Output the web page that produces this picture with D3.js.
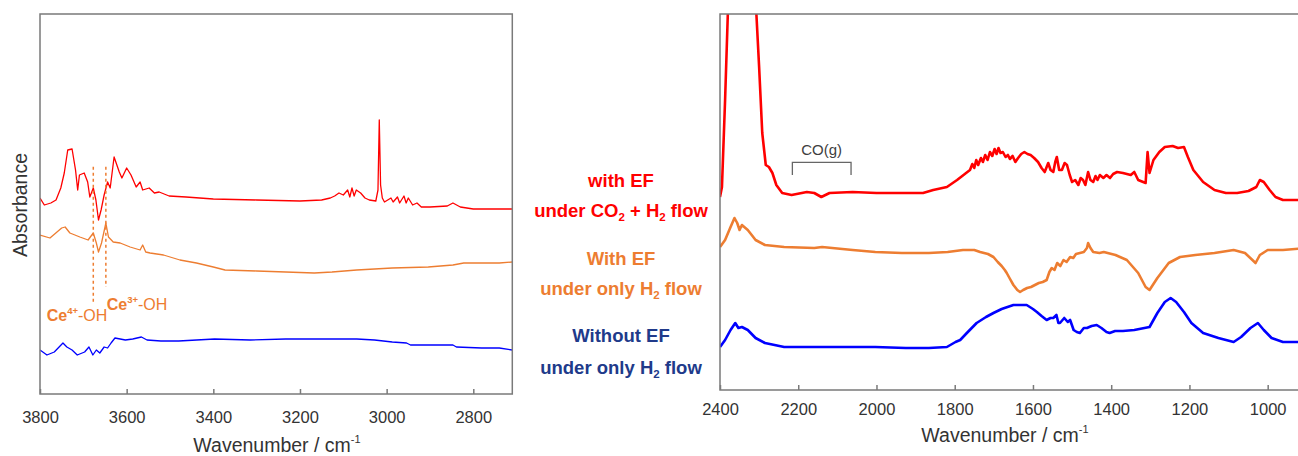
<!DOCTYPE html>
<html>
<head>
<meta charset="utf-8">
<script src="https://cdn.jsdelivr.net/npm/d3@7"></script>
<style>
  html, body { margin: 0; padding: 0; background: #fff; }
  svg { display: block; font-family: "Liberation Sans", Arial, sans-serif; }
</style>
</head>
<body>
<svg id="chart" width="1298" height="456"></svg>
<script>
// ---------------- DATA ----------------
// Left panel (OH / C-H region): [wavenumber, absorbance (a.u., offset)]
const leftTicks = [3800, 3600, 3400, 3200, 3000, 2800];
const leftRed = [[3800,19.6],[3790,18.9],[3775,19.1],[3763,19.4],[3752,20.6],[3744,22.1],[3736,24.4],[3726,24.5],[3718,22.4],[3713,20.4],[3709,21.9],[3698,22.1],[3690,21.2],[3685,19.7],[3677,20.6],[3671,19.4],[3665,17.4],[3659,18.4],[3652,19.9],[3644,21.2],[3638,20.6],[3629,23.7],[3617,22.2],[3611,21.6],[3600,22.6],[3590,21.9],[3578,20.7],[3569,21.2],[3563,20.4],[3548,20.6],[3536,20.1],[3525,20.2],[3502,19.8],[3463,19.7],[3400,19.5],[3300,19.4],[3200,19.3],[3150,19.4],[3130,19.6],[3120,19.8],[3110,20.1],[3100,19.9],[3090,20.4],[3085,19.7],[3080,20.6],[3075,19.8],[3070,20.4],[3060,20.1],[3050,19.6],[3040,19.4],[3025,19.3],[3020,20.4],[3017,27.4],[3014,20.9],[3010,19.6],[3005,19.2],[2990,19.6],[2985,19.2],[2975,19.7],[2970,19.1],[2960,19.8],[2955,19.1],[2950,19.6],[2940,18.9],[2930,19.1],[2920,18.7],[2900,18.7],[2860,18.8],[2847,19.1],[2830,18.7],[2800,18.5],[2750,18.5],[2710,18.5]];
const leftOrange = [[3800,15.9],[3777,15.6],[3750,16.6],[3742,16.7],[3731,16.1],[3708,15.7],[3689,15.4],[3677,16.1],[3670,15.1],[3665,14.2],[3658,15.1],[3648,17.1],[3642,15.7],[3631,15.2],[3615,15.1],[3592,14.7],[3569,14.4],[3563,14.9],[3556,14.2],[3546,14.1],[3515,13.9],[3477,13.4],[3439,13.1],[3400,12.7],[3373,12.4],[3300,12.3],[3233,12.2],[3167,12.1],[3126,12.2],[3069,12.4],[2987,12.6],[2904,12.7],[2847,12.9],[2822,13.1],[2740,13.1],[2710,13.2]];
const leftBlue = [[3800,4.4],[3784,3.9],[3767,4.2],[3747,5.1],[3738,4.7],[3726,4.4],[3714,3.9],[3697,4.2],[3687,4.7],[3678,3.9],[3670,4.4],[3662,4.1],[3652,4.7],[3644,4.6],[3636,5.1],[3627,5.6],[3603,5.4],[3586,5.5],[3566,5.7],[3553,5.4],[3521,5.3],[3480,5.3],[3397,5.5],[3315,5.4],[3233,5.5],[3151,5.5],[3069,5.5],[3028,5.4],[2987,5.2],[2954,5.1],[2945,4.9],[2847,4.9],[2839,4.7],[2781,4.6],[2740,4.6],[2710,4.4]];
const ceBands = [3677, 3648];

// Right panel (carbonate / formate region)
const rightTicks = [2400, 2200, 2000, 1800, 1600, 1400, 1200, 1000];
const rightRed = [[2400,19.3],[2395,20.3],[2387,29.0],[2380,37.6],[2376,42.0],[2312,42.0],[2307,37.6],[2300,32.3],[2292,25.7],[2283,22.5],[2275,22.3],[2266,21.7],[2256,20.5],[2241,19.7],[2217,19.5],[2178,19.8],[2159,19.7],[2141,19.3],[2120,19.7],[2061,19.8],[2000,19.7],[1944,19.7],[1881,19.7],[1855,20.0],[1820,20.3],[1794,21.0],[1761,22.0],[1755,22.6],[1750,22.2],[1745,23.0],[1740,22.5],[1733,23.2],[1728,22.8],[1722,23.5],[1716,23.0],[1710,23.8],[1704,23.4],[1698,24.1],[1693,23.6],[1688,24.2],[1683,23.7],[1677,23.8],[1670,23.3],[1664,23.5],[1659,23.1],[1652,23.4],[1645,22.8],[1638,23.2],[1630,23.6],[1622,23.8],[1614,23.6],[1606,23.5],[1597,23.2],[1587,22.8],[1578,22.2],[1570,21.8],[1561,22.7],[1555,22.0],[1548,21.8],[1543,22.8],[1539,23.3],[1533,22.0],[1526,22.0],[1519,22.7],[1513,22.5],[1506,21.5],[1500,20.8],[1492,21.0],[1484,20.5],[1478,21.2],[1472,21.0],[1466,20.5],[1459,21.8],[1453,21.0],[1446,20.8],[1440,21.4],[1435,21.0],[1429,21.5],[1420,21.2],[1412,21.5],[1403,21.2],[1395,21.6],[1385,21.8],[1370,21.7],[1350,21.5],[1341,21.8],[1331,21.0],[1312,20.7],[1307,23.8],[1302,21.7],[1292,23.0],[1277,23.8],[1263,24.3],[1243,24.4],[1229,24.2],[1214,24.3],[1204,23.3],[1190,22.0],[1165,20.8],[1136,20.0],[1107,19.7],[1078,19.7],[1049,19.9],[1029,20.3],[1020,21.0],[1010,20.8],[995,20.0],[980,19.3],[961,19.0],[900,19.0]];
const rightOrange = [[2400,14.3],[2387,15.0],[2373,16.3],[2363,17.2],[2356,16.7],[2350,16.0],[2344,16.5],[2329,16.0],[2309,15.0],[2285,14.5],[2236,14.3],[2159,14.2],[2139,14.3],[2061,14.0],[2003,13.8],[1935,13.7],[1866,13.7],[1818,13.8],[1779,14.0],[1750,14.0],[1735,13.8],[1715,13.6],[1701,13.3],[1690,12.8],[1680,12.4],[1672,12.0],[1667,11.7],[1660,11.2],[1650,10.5],[1640,10.0],[1633,9.8],[1625,10.0],[1615,10.2],[1605,10.3],[1595,10.5],[1585,10.7],[1575,10.8],[1565,11.0],[1558,11.8],[1552,12.2],[1545,12.0],[1538,12.7],[1530,12.4],[1522,13.0],[1514,12.8],[1505,13.3],[1497,13.2],[1490,13.6],[1480,13.7],[1470,13.8],[1462,14.2],[1459,14.7],[1453,14.2],[1446,13.8],[1430,13.7],[1419,13.8],[1389,13.5],[1360,13.0],[1331,11.7],[1312,10.3],[1302,10.0],[1282,11.2],[1253,12.7],[1224,13.3],[1185,13.5],[1136,13.7],[1087,14.0],[1058,13.7],[1039,13.0],[1031,12.7],[1020,13.5],[1000,14.0],[961,14.0],[900,14.2]];
const rightBlue = [[2400,4.3],[2387,5.0],[2373,6.0],[2361,6.7],[2353,6.2],[2344,6.3],[2329,6.0],[2309,5.2],[2285,4.7],[2236,4.3],[2061,4.3],[2003,4.3],[1925,4.2],[1866,4.2],[1820,4.3],[1798,4.8],[1786,5.0],[1769,5.7],[1744,6.7],[1720,7.3],[1701,7.7],[1680,8.1],[1650,8.5],[1633,8.5],[1616,8.5],[1600,8.1],[1590,7.8],[1578,7.4],[1565,7.0],[1555,7.2],[1548,7.2],[1540,7.5],[1535,6.7],[1531,6.7],[1520,7.2],[1511,6.8],[1505,7.0],[1496,6.0],[1488,5.8],[1480,5.7],[1470,6.2],[1462,6.2],[1450,6.4],[1437,6.5],[1425,6.2],[1412,5.8],[1404,5.7],[1390,5.9],[1370,5.9],[1341,6.0],[1302,6.3],[1282,7.7],[1263,8.8],[1248,9.2],[1234,8.8],[1214,7.8],[1195,6.7],[1165,5.7],[1126,5.2],[1087,4.8],[1068,5.3],[1044,6.2],[1025,6.7],[1010,6.0],[990,5.2],[961,4.8],[900,4.8]];
const coBracket = [2215, 2065];

// Legend text
const labelLines = [
  { parts: [["with EF", ""]], color: "#ff0000" },
  { parts: [["under CO", ""], ["2", "sub"], [" + H", ""], ["2", "sub"], [" flow", ""]], color: "#ff0000" },
  { parts: [["With EF", ""]], color: "#ed7d31" },
  { parts: [["under only H", ""], ["2", "sub"], [" flow", ""]], color: "#ed7d31" },
  { parts: [["Without EF", ""]], color: "#203a8a" },
  { parts: [["under only H", ""], ["2", "sub"], [" flow", ""]], color: "#203a8a" }
];
const labelBaselines = [186.5, 216.5, 264.5, 294.5, 341.5, 373.5];

// ---------------- DRAW ----------------
const svg = d3.select("#chart");
const axisColor = "#7a7a7a";
const textColor = "#333";
const RED = "#ff0000", ORANGE = "#ed7d31", BLUE = "#0000ff";

// ---- Left panel ----
const L = { x0: 40, x1: 512.3, y0: 14, y1: 394 };
const xL = d3.scaleLinear().domain([3800, 2710]).range([L.x0, L.x1]);
const yL = d3.scaleLinear().domain([0, 38]).range([L.y1, L.y0]);

svg.append("clipPath").attr("id", "clipL").append("rect")
  .attr("x", L.x0).attr("y", L.y0).attr("width", L.x1 - L.x0).attr("height", L.y1 - L.y0);

const lineL = d3.line().x(d => xL(d[0])).y(d => yL(d[1]));
const gL = svg.append("g").attr("clip-path", "url(#clipL)");
[[leftRed, RED], [leftOrange, ORANGE], [leftBlue, BLUE]].forEach(([data, c]) => {
  gL.append("path").datum(data).attr("d", lineL)
    .attr("fill", "none").attr("stroke", c).attr("stroke-width", 1.3).attr("stroke-linejoin", "round");
});

// Ce-OH dotted markers
const ceTop = 166.7, ceBottoms = [303, 287];
ceBands.forEach((w, i) => {
  svg.append("line").attr("x1", xL(w)).attr("x2", xL(w)).attr("y1", ceTop).attr("y2", ceBottoms[i])
    .attr("stroke", ORANGE).attr("stroke-width", 1.5).attr("stroke-dasharray", "3,3");
});
function ceLabel(x, y, sup) {
  const t = svg.append("text").attr("x", x).attr("y", y).attr("fill", ORANGE).attr("font-size", 16);
  t.append("tspan").attr("font-weight", "bold").text("Ce");
  t.append("tspan").attr("font-size", 9.5).attr("dy", -7).attr("font-weight", "bold").text(sup);
  t.append("tspan").attr("dy", 7).text("-OH");
}
ceLabel(46.7, 321, "4+");
ceLabel(106.7, 310, "3+");

// Left frame
svg.append("rect").attr("x", L.x0).attr("y", L.y0).attr("width", L.x1 - L.x0).attr("height", L.y1 - L.y0)
  .attr("fill", "none").attr("stroke", axisColor).attr("stroke-width", 1.5);
const axL = svg.append("g").attr("transform", `translate(0,${L.y1})`)
  .call(d3.axisBottom(xL).tickValues(leftTicks).tickSizeInner(-5).tickSizeOuter(0).tickPadding(0).tickFormat(d3.format("d")));
axL.select(".domain").remove();
axL.selectAll(".tick line").attr("stroke", axisColor).attr("stroke-width", 1.5);
axL.selectAll(".tick text").attr("fill", textColor).attr("font-size", 16.5)
  .attr("font-family", "Liberation Sans, Arial, sans-serif").attr("dy", null).attr("y", 28.5);

function axisTitle(x, y) {
  const t = svg.append("text").attr("x", x).attr("y", y).attr("text-anchor", "middle")
    .attr("fill", textColor).attr("font-size", 19.5);
  t.append("tspan").text("Wavenumber / cm");
  t.append("tspan").attr("font-size", 11).attr("dy", -9).text("-1");
}
axisTitle(277, 452);

svg.append("text").attr("transform", "translate(26.5,205) rotate(-90)")
  .attr("text-anchor", "middle").attr("fill", textColor).attr("font-size", 19.5).text("Absorbance");

// ---- Middle labels ----
labelLines.forEach((ln, i) => {
  const t = svg.append("text").attr("x", 621).attr("y", labelBaselines[i]).attr("text-anchor", "middle")
    .attr("fill", ln.color).attr("font-size", 18.5).attr("font-weight", "bold");
  let shifted = false;
  ln.parts.forEach(([txt, kind]) => {
    const s = t.append("tspan").text(txt);
    if (kind === "sub") { s.attr("font-size", 11.5).attr("dy", 4); shifted = true; }
    else if (shifted) { s.attr("dy", -4); shifted = false; }
  });
});

// ---- Right panel ----
const R = { x0: 720, x1: 1306.8, y0: 14, y1: 390 };
const xR = d3.scaleLinear().domain([2400, 900]).range([R.x0, R.x1]);
const yR = d3.scaleLinear().domain([0, 37.6]).range([R.y1, R.y0]);

svg.append("clipPath").attr("id", "clipR").append("rect")
  .attr("x", R.x0).attr("y", R.y0).attr("width", R.x1 - R.x0).attr("height", R.y1 - R.y0);

const lineR = d3.line().x(d => xR(d[0])).y(d => yR(d[1]));
const gR = svg.append("g").attr("clip-path", "url(#clipR)");
[[rightRed, RED], [rightOrange, ORANGE], [rightBlue, BLUE]].forEach(([data, c]) => {
  gR.append("path").datum(data).attr("d", lineR)
    .attr("fill", "none").attr("stroke", c).attr("stroke-width", 2.6).attr("stroke-linejoin", "round");
});

// CO(g) bracket
const bTop = 162.3, bBot = 175;
svg.append("path")
  .attr("d", `M${xR(coBracket[0])},${bBot}V${bTop}H${xR(coBracket[1])}V${bBot}`)
  .attr("fill", "none").attr("stroke", "#666").attr("stroke-width", 1.3);
svg.append("text").attr("x", (xR(coBracket[0]) + xR(coBracket[1])) / 2).attr("y", 155)
  .attr("text-anchor", "middle").attr("fill", "#404040").attr("font-size", 15).text("CO(g)");

// Right frame (right border lies outside the window)
svg.append("path").attr("d", `M${R.x1},${R.y0}H${R.x0}V${R.y1}H${R.x1}`)
  .attr("fill", "none").attr("stroke", axisColor).attr("stroke-width", 1.5);
const axR = svg.append("g").attr("transform", `translate(0,${R.y1})`)
  .call(d3.axisBottom(xR).tickValues(rightTicks).tickSizeInner(-5).tickSizeOuter(0).tickPadding(0).tickFormat(d3.format("d")));
axR.select(".domain").remove();
axR.selectAll(".tick line").attr("stroke", axisColor).attr("stroke-width", 1.5);
axR.selectAll(".tick text").attr("fill", textColor).attr("font-size", 16.5)
  .attr("font-family", "Liberation Sans, Arial, sans-serif").attr("dy", null).attr("y", 25);

axisTitle(1005, 442);
</script>
</body>
</html>
